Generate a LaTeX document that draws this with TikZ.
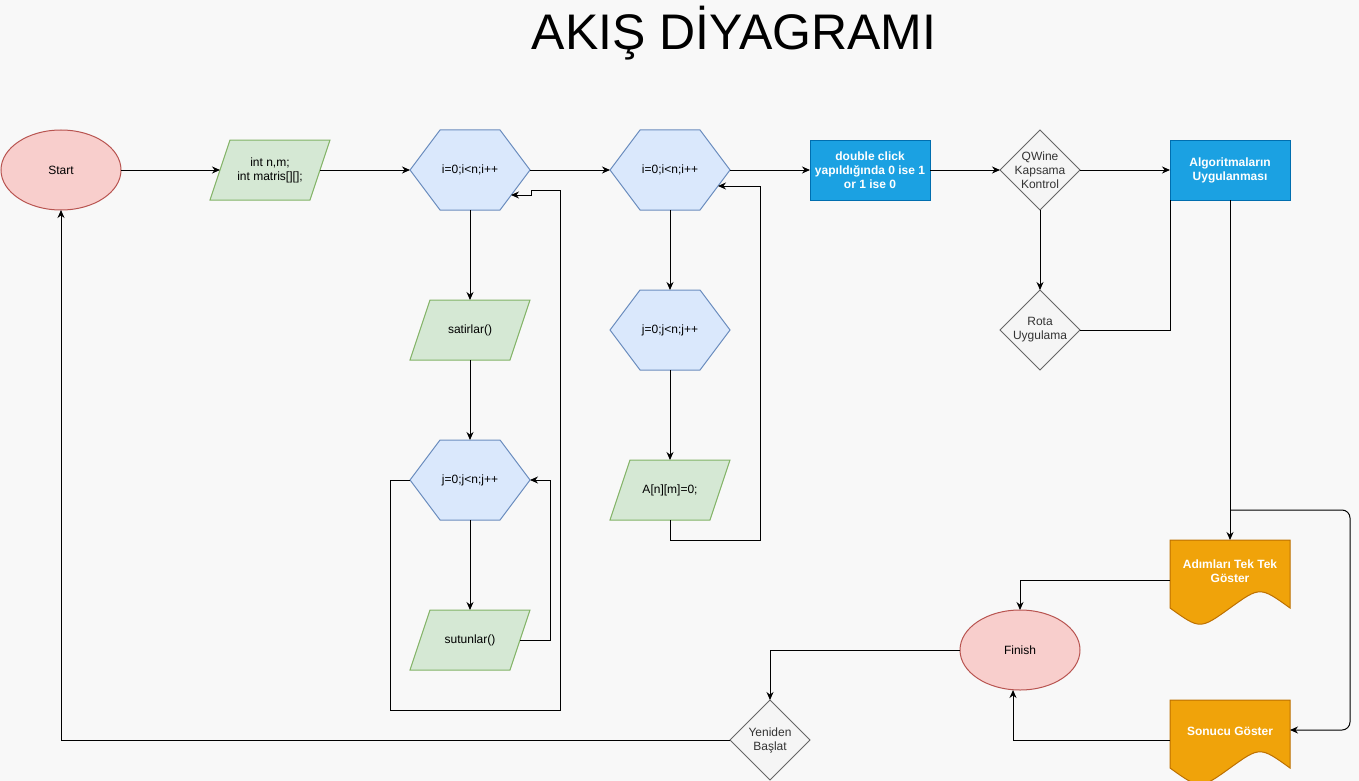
\documentclass[tikz,border=0pt]{standalone}
\usepackage{fontspec}
\setmainfont{Liberation Sans}
\usetikzlibrary{shapes.geometric,arrows.meta}
\definecolor{bgc}{HTML}{F8F8F8}
\definecolor{redf}{HTML}{F8CECC}\definecolor{redd}{HTML}{B85450}
\definecolor{grnf}{HTML}{D5E8D4}\definecolor{grnd}{HTML}{82B366}
\definecolor{bluf}{HTML}{DAE8FC}\definecolor{blud}{HTML}{6C8EBF}
\definecolor{cyaf}{HTML}{1BA1E2}\definecolor{cyad}{HTML}{006EAF}
\definecolor{gryf}{HTML}{F5F5F5}\definecolor{gryd}{HTML}{666666}
\definecolor{gryt}{HTML}{333333}
\definecolor{orgf}{HTML}{F0A30A}\definecolor{orgd}{HTML}{BD7000}
\tikzset{
  txt/.style={inner sep=0pt, outer sep=0pt, align=center, font=\fontsize{12pt}{14pt}\selectfont},
  hexs/.style={fill=bluf, draw=blud},
  paras/.style={fill=grnf, draw=grnd},
  dias/.style={fill=gryf, draw=gryd},
  docs/.style={fill=orgf, draw=orgd},
  term/.style={ellipse, fill=redf, draw=redd, minimum width=120pt, minimum height=80pt, inner sep=0pt, outer sep=0pt, font=\fontsize{12pt}{14pt}\selectfont},
  bbox/.style={rectangle, fill=cyaf, draw=cyad, minimum width=120pt, minimum height=60pt, inner sep=0pt, outer sep=0pt, align=center, text=white, font=\fontsize{12pt}{14pt}\selectfont\bfseries},
  arr/.style={draw=black, -{Stealth[length=8pt,width=7pt]}},
  conn/.style={draw=black}
}
\newcommand\mkhex[4]{%
  \draw[hexs] ({#2-60},#3) -- ({#2-30},{#3-40}) -- ({#2+30},{#3-40}) -- ({#2+60},#3) -- ({#2+30},{#3+40}) -- ({#2-30},{#3+40}) -- cycle;
  \node[txt, minimum width=120pt, minimum height=80pt] (#1) at (#2,#3) {#4};}
\newcommand\mkpara[4]{%
  \draw[paras] ({#2-40},{#3-30}) -- ({#2+60},{#3-30}) -- ({#2+40},{#3+30}) -- ({#2-60},{#3+30}) -- cycle;
  \node[txt, minimum width=100pt, minimum height=60pt] (#1) at (#2,#3) {#4};}
\newcommand\mkdia[4]{%
  \draw[dias] ({#2-40},#3) -- (#2,{#3-40}) -- ({#2+40},#3) -- (#2,{#3+40}) -- cycle;
  \node[txt, text=gryt, minimum width=80pt, minimum height=80pt] (#1) at (#2,#3) {#4};}
\newcommand\mkdoc[5]{%
  \draw[docs] (#2,#3) -- ({#2+120},#3) -- ({#2+120},{#3+68}) .. controls ({#2+90},{#3+46.4}) .. ({#2+60},{#3+68}) .. controls ({#2+30},{#3+89.6}) .. (#2,{#3+68}) -- cycle;
  \node[txt, minimum width=120pt, minimum height=80pt] (#1) at ({#2+60},{#3+40}) {};
  \node[txt, text=white, font=\fontsize{12pt}{14pt}\selectfont\bfseries] (#5) at ({#2+60},{#3+31}) {#4};}
\begin{document}
\begin{tikzpicture}[x=1pt,y=-1pt,line width=1pt]
\fill[bgc] (0,0) rectangle (1359,781);
\useasboundingbox (0,0) rectangle (1359,781);
\node[anchor=base, inner sep=0pt, font=\fontsize{50pt}{58pt}\selectfont] (title) at (734,50) {AKIŞ DİYAGRAMI};
% shapes
\node[term] (start) at (61,170) {Start};
\mkpara{p1}{270}{170}{int n,m;\\int matris[][];}
\mkhex{h1}{470}{170}{i=0;i<n;i++}
\mkhex{h2}{670}{170}{i=0;i<n;i++}
\node[bbox] (dbl) at (870,170) {double click\\yapıldığında 0 ise 1\\or 1 ise 0};
\mkdia{qw}{1040}{170}{QWine\\Kapsama\\Kontrol}
\node[bbox] (algo) at (1230,170) {Algoritmaların\\Uygulanması};
\mkdia{rota}{1040}{330}{Rota\\Uygulama}
\mkpara{sat}{470}{330}{satirlar()}
\mkhex{j1}{470}{480}{j=0;j<n;j++}
\mkpara{sut}{470}{640}{sutunlar()}
\mkhex{j2}{670}{330}{j=0;j<n;j++}
\mkpara{amn}{670}{490}{A[n][m]=0;}
\mkdoc{adim}{1170}{540}{Adımları Tek Tek\\Göster}{adimtxt}
\mkdoc{son}{1170}{700}{Sonucu Göster}{sontxt}
\node[term] (finish) at (1020,650) {Finish};
\mkdia{yen}{770}{740}{Yeniden\\Başlat}
% helper coordinates
\coordinate (br) at (1230,510);
\coordinate (rc1) at (1350,510);
\coordinate (rc2) at (1350,730);
\coordinate (sonR) at (1290,730);
\coordinate (adimL) at (1170,580);
\coordinate (sonL) at (1170,740);
\coordinate (c1) at (550,640);
\coordinate (jb) at (390,710);
\coordinate (jt) at (560,190);
\coordinate (jt2) at (531,190);
\coordinate (h1in) at (511,195);
\coordinate (ab) at (760,540);
\coordinate (h2in) at (718,186);
% connectors
\draw[arr] (start.east) -- (p1.west);
\draw[arr] (p1.east) -- (h1.west);
\draw[arr] (h1.east) -- (h2.west);
\draw[arr] (h2.east) -- (dbl.west);
\draw[arr] (dbl.east) -- (qw.west);
\draw[arr] (qw.east) -- (algo.west);
\draw[arr] (qw.south) -- (rota.north);
\draw[conn] (rota.east) -| (algo.south west);
\draw[arr] (algo.south) -- (adim.north);
\draw[arr, rounded corners=8pt] (br) -- (rc1) -- (rc2) -- (sonR);
\draw[arr] (adimL) -| (finish.north);
\draw[arr] (sonL) -| ([xshift=-7pt]finish.south);
\draw[arr] (finish.west) -| (yen.north);
\draw[arr] (yen.west) -| (start.south);
\draw[arr] (h1.south) -- (sat.north);
\draw[arr] (sat.south) -- (j1.north);
\draw[arr] (j1.south) -- (sut.north);
\draw[arr] (sut.east) -- (c1) |- (j1.east);
\draw[arr] (j1.west) -| (jb) -| (jt) -- (jt2) |- (h1in);
\draw[arr] (h2.south) -- (j2.north);
\draw[arr] (j2.south) -- (amn.north);
\draw[arr] (amn.south) |- (ab) |- (h2in);
\end{tikzpicture}
\end{document}
